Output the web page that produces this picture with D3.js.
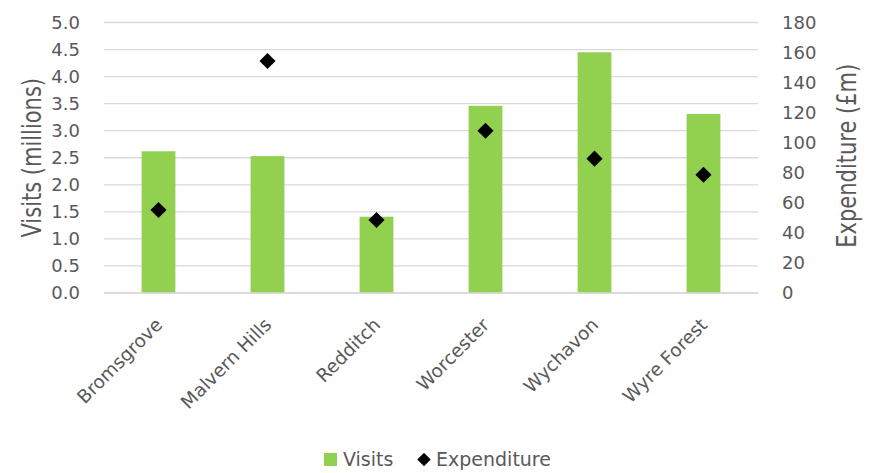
<!DOCTYPE html>
<html>
<head>
<meta charset="utf-8">
<script src="https://cdn.jsdelivr.net/npm/d3@7"></script>
<style>
  body { margin: 0; background: #fff; }
  text { font-family: "DejaVu Sans", sans-serif; fill: #595959; }
</style>
</head>
<body>
<div id="chart"></div>
<script>
// chart data
var districts = ["Bromsgrove", "Malvern Hills", "Redditch", "Worcester", "Wychavon", "Wyre Forest"];
var visits = [2.62, 2.53, 1.41, 3.46, 4.45, 3.31];
var expenditure = [55.2, 154.4, 48.6, 108, 89.4, 78.7];
var leftTicks = [0, 0.5, 1, 1.5, 2, 2.5, 3, 3.5, 4, 4.5, 5];
var rightTicks = [0, 20, 40, 60, 80, 100, 120, 140, 160, 180];

var W = 871, H = 473;
var plot = { left: 104, right: 758, top: 22.5, bottom: 293 };

var svg = d3.select("#chart")
  .append("svg")
  .attr("width", W)
  .attr("height", H);

var x = d3.scaleBand()
  .domain(districts)
  .range([plot.left, plot.right])
  .paddingInner(0.69)
  .paddingOuter(0.345);

var yL = d3.scaleLinear().domain([0, 5]).range([plot.bottom, plot.top]);
var yR = d3.scaleLinear().domain([0, 180]).range([plot.bottom, plot.top]);

// gridlines
svg.append("g")
  .selectAll("line")
  .data(leftTicks)
  .join("line")
  .attr("x1", plot.left)
  .attr("x2", plot.right)
  .attr("y1", function(d) { return yL(d); })
  .attr("y2", function(d) { return yL(d); })
  .attr("stroke", "#d9d9d9")
  .attr("stroke-width", 1.3);

// left axis
var leftAxis = svg.append("g")
  .attr("transform", "translate(" + plot.left + ",0)")
  .call(d3.axisLeft(yL).tickValues(leftTicks).tickFormat(d3.format(".1f")).tickSize(0).tickPadding(24));
leftAxis.select(".domain").remove();
leftAxis.selectAll("text").style("font-size", "18px").attr("fill", "#595959");

// right axis
var rightAxis = svg.append("g")
  .attr("transform", "translate(" + plot.right + ",0)")
  .call(d3.axisRight(yR).tickValues(rightTicks).tickSize(0).tickPadding(24));
rightAxis.select(".domain").remove();
rightAxis.selectAll("text").style("font-size", "18px").attr("fill", "#595959");

// bars
svg.append("g")
  .selectAll("rect")
  .data(districts)
  .join("rect")
  .attr("x", function(d) { return x(d); })
  .attr("width", x.bandwidth())
  .attr("y", function(d, i) { return yL(visits[i]); })
  .attr("height", function(d, i) { return plot.bottom - yL(visits[i]); })
  .attr("fill", "#92d050");

// expenditure markers
var diamond = d3.symbol().type(d3.symbolSquare).size(130);
svg.append("g")
  .selectAll("path")
  .data(districts)
  .join("path")
  .attr("d", diamond)
  .attr("transform", function(d, i) {
    return "translate(" + (x(d) + x.bandwidth() / 2) + "," + yR(expenditure[i]) + ") rotate(45)";
  })
  .attr("fill", "#000");

// bottom axis line
svg.append("line")
  .attr("x1", plot.left).attr("x2", plot.right)
  .attr("y1", plot.bottom).attr("y2", plot.bottom)
  .attr("stroke", "#d9d9d9")
  .attr("stroke-width", 1.3);

// category labels
svg.append("g")
  .selectAll("text")
  .data(districts)
  .join("text")
  .attr("text-anchor", "end")
  .attr("transform", function(d) {
    return "translate(" + (x(d) + x.bandwidth() / 2 + 5) + "," + (plot.bottom + 33) + ") rotate(-45)";
  })
  .style("font-size", "18.5px")
  .text(function(d) { return d; });

// axis titles
svg.append("text")
  .attr("transform", "translate(41," + ((plot.top + plot.bottom) / 2) + ") scale(1.3,1) rotate(-90)")
  .attr("text-anchor", "middle")
  .style("font-size", "21px")
  .text("Visits (millions)");

svg.append("text")
  .attr("transform", "translate(856," + ((plot.top + plot.bottom) / 2 - 2) + ") scale(1.3,1) rotate(-90)")
  .attr("text-anchor", "middle")
  .style("font-size", "21px")
  .text("Expenditure (£m)");

// legend
var legend = svg.append("g");
legend.append("rect")
  .attr("x", 324).attr("y", 453)
  .attr("width", 13).attr("height", 13)
  .attr("fill", "#92d050");
legend.append("text")
  .attr("x", 343).attr("y", 466)
  .style("font-size", "19px")
  .text("Visits");
legend.append("path")
  .attr("d", d3.symbol().type(d3.symbolSquare).size(90))
  .attr("transform", "translate(424,459.5) rotate(45)")
  .attr("fill", "#000");
legend.append("text")
  .attr("x", 436).attr("y", 466)
  .style("font-size", "19px")
  .text("Expenditure");
</script>
</body>
</html>
